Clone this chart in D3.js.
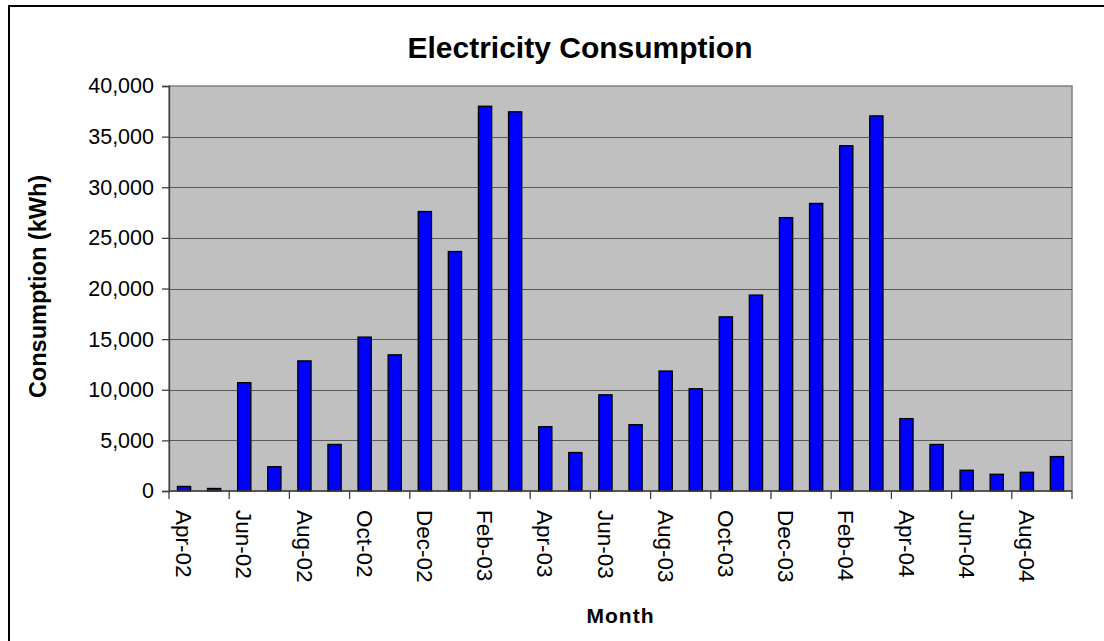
<!DOCTYPE html>
<html>
<head>
<meta charset="utf-8">
<script src="https://cdn.jsdelivr.net/npm/d3@7"></script>
<style>
  body { margin: 0; background: #fff; }
  svg { display: block; }
</style>
</head>
<body>
<div id="chart"></div>
<script>
const months = [
    "Apr-02", "May-02", "Jun-02", "Jul-02", "Aug-02", "Sep-02", "Oct-02", "Nov-02", "Dec-02",
    "Jan-03", "Feb-03", "Mar-03", "Apr-03", "May-03", "Jun-03", "Jul-03", "Aug-03", "Sep-03",
    "Oct-03", "Nov-03", "Dec-03", "Jan-04", "Feb-04", "Mar-04", "Apr-04", "May-04", "Jun-04",
    "Jul-04", "Aug-04", "Sep-04"
];
const consumption = [
    450, 250, 10700, 2400, 12850, 4600, 15200, 13450, 27600,
    23650, 38000, 37450, 6350, 3800, 9500, 6550, 11850, 10100,
    17200, 19350, 27000, 28400, 34100, 37050, 7150, 4600, 2050,
    1650, 1850, 3400
];
const yTicks = [0, 5000, 10000, 15000, 20000, 25000, 30000, 35000, 40000];

const W = 1104, H = 641;
const plot = { left: 169, top: 86, right: 1072, bottom: 491 };
const FONT = "'Liberation Sans', Arial, sans-serif";

const svg = d3.select("#chart").append("svg")
    .attr("width", W)
    .attr("height", H);

// chart area border (only top/left visible in frame)
svg.append("rect")
    .attr("x", 9).attr("y", 6)
    .attr("width", W + 20).attr("height", H + 20)
    .attr("fill", "#fff")
    .attr("stroke", "#000")
    .attr("stroke-width", 2);

const x = d3.scaleBand()
    .domain(months)
    .range([plot.left, plot.right])
    .paddingInner(0.56)
    .paddingOuter(0.28);

const y = d3.scaleLinear()
    .domain([0, 40000])
    .range([plot.bottom, plot.top]);

// plot background
svg.append("rect")
    .attr("x", plot.left).attr("y", plot.top)
    .attr("width", plot.right - plot.left)
    .attr("height", plot.bottom - plot.top)
    .attr("fill", "#c0c0c0")
    .attr("stroke", "#808080")
    .attr("stroke-width", 1.5);

// gridlines
svg.append("g")
    .selectAll("line")
    .data(yTicks.filter(d => d > 0 && d < 40000))
    .enter().append("line")
    .attr("x1", plot.left).attr("x2", plot.right)
    .attr("y1", d => Math.round(y(d)) + 0.5)
    .attr("y2", d => Math.round(y(d)) + 0.5)
    .attr("stroke", "#5a5a5a")
    .attr("stroke-width", 1);

// bars
svg.append("g")
    .selectAll("rect")
    .data(months.map((m, i) => ({ month: m, value: consumption[i] })))
    .enter().append("rect")
    .attr("x", d => x(d.month))
    .attr("y", d => y(d.value))
    .attr("width", x.bandwidth())
    .attr("height", d => plot.bottom - y(d.value))
    .attr("fill", "#0000ff")
    .attr("stroke", "#000")
    .attr("stroke-width", 1.3);

// y axis
const yAxis = svg.append("g")
    .attr("transform", `translate(${plot.left},0)`)
    .call(d3.axisLeft(y)
        .tickValues(yTicks)
        .tickSize(7)
        .tickPadding(8)
        .tickFormat(d3.format(",")));
yAxis.select(".domain").attr("stroke", "#404040").attr("stroke-width", 1.3);
yAxis.selectAll(".tick line").attr("stroke", "#404040").attr("stroke-width", 1.3);
yAxis.selectAll("text")
    .style("font-family", FONT)
    .style("font-size", "21.5px")
    .attr("fill", "#000");

// x axis: ticks at category boundaries every 2 months
const step = x.step();
const boundaries = d3.range(0, months.length + 1, 2).map(i => plot.left + i * step);
const xAxis = svg.append("g");
xAxis.append("line")
    .attr("x1", plot.left).attr("x2", plot.right)
    .attr("y1", plot.bottom).attr("y2", plot.bottom)
    .attr("stroke", "#404040").attr("stroke-width", 1.3);
xAxis.selectAll(".tk")
    .data(boundaries)
    .enter().append("line")
    .attr("class", "tk")
    .attr("x1", d => d).attr("x2", d => d)
    .attr("y1", plot.bottom).attr("y2", plot.bottom + 8)
    .attr("stroke", "#404040").attr("stroke-width", 1.3);
xAxis.selectAll("text")
    .data(months.filter((m, i) => i % 2 === 0))
    .enter().append("text")
    .attr("transform", d => `translate(${x(d) + x.bandwidth() / 2},${plot.bottom + 19}) rotate(90)`)
    .attr("dy", "0.35em")
    .attr("text-anchor", "start")
    .style("font-family", FONT)
    .style("font-size", "22.5px")
    .attr("fill", "#000")
    .text(d => d);

// title
svg.append("text")
    .attr("x", 580)
    .attr("y", 58)
    .attr("text-anchor", "middle")
    .style("font-family", FONT)
    .style("font-size", "30px")
    .style("font-weight", "bold")
    .text("Electricity Consumption");

// axis titles
svg.append("text")
    .attr("transform", `translate(46,${(plot.top + plot.bottom) / 2 - 2}) rotate(-90)`)
    .attr("text-anchor", "middle")
    .style("font-family", FONT)
    .style("font-size", "23.5px")
    .style("font-weight", "bold")
    .text("Consumption (kWh)");

svg.append("text")
    .attr("x", (plot.left + plot.right) / 2)
    .attr("y", 623)
    .attr("text-anchor", "middle")
    .style("font-family", FONT)
    .style("font-size", "21px")
    .style("font-weight", "bold")
    .style("letter-spacing", "1px")
    .text("Month");
</script>
</body>
</html>
